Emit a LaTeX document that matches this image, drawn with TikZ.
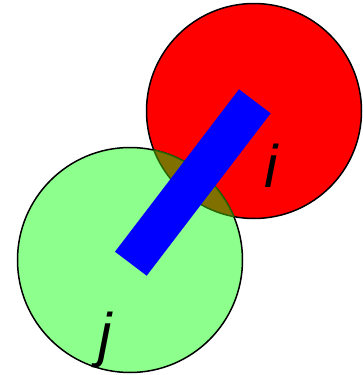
\documentclass[tikz,border=0pt]{standalone}
\usepackage{fontspec}
\setsansfont{Liberation Sans}
\definecolor{lgreen}{RGB}{140,255,140}
\definecolor{olivec}{RGB}{128,112,0}
\definecolor{dgreen}{RGB}{40,100,0}
\begin{document}
\begin{tikzpicture}[x=1pt,y=-1pt,
  rim/.style={line width=1.5pt},
  lbl/.style={font=\sffamily\itshape\fontsize{60}{60}\selectfont, anchor=base, inner sep=0pt}]
\useasboundingbox (0,0) rectangle (362,375);
\coordinate (ci) at (254,111);
\coordinate (cj) at (130,260);
\fill[red] (ci) circle (107.5);
\draw[rim] (ci) circle (107.5);
\fill[lgreen] (cj) circle (112.5);
\draw[rim] (cj) circle (112.5);
\begin{scope}
  \clip (ci) circle (107.5);
  \fill[olivec] (cj) circle (112.5);
  \draw[rim, dgreen] (cj) circle (112.5);
\end{scope}
\begin{scope}
  \clip (cj) circle (112.5);
  \draw[rim, dgreen] (ci) circle (107.5);
\end{scope}
\fill[blue] (239,89.3) -- (270.7,113.3) -- (146.7,275.7) -- (115,251.7) -- cycle;
\node[lbl] (li) at (271,187) {i};
\node[lbl] (lj) at (105,355) {j};
\end{tikzpicture}
\end{document}
